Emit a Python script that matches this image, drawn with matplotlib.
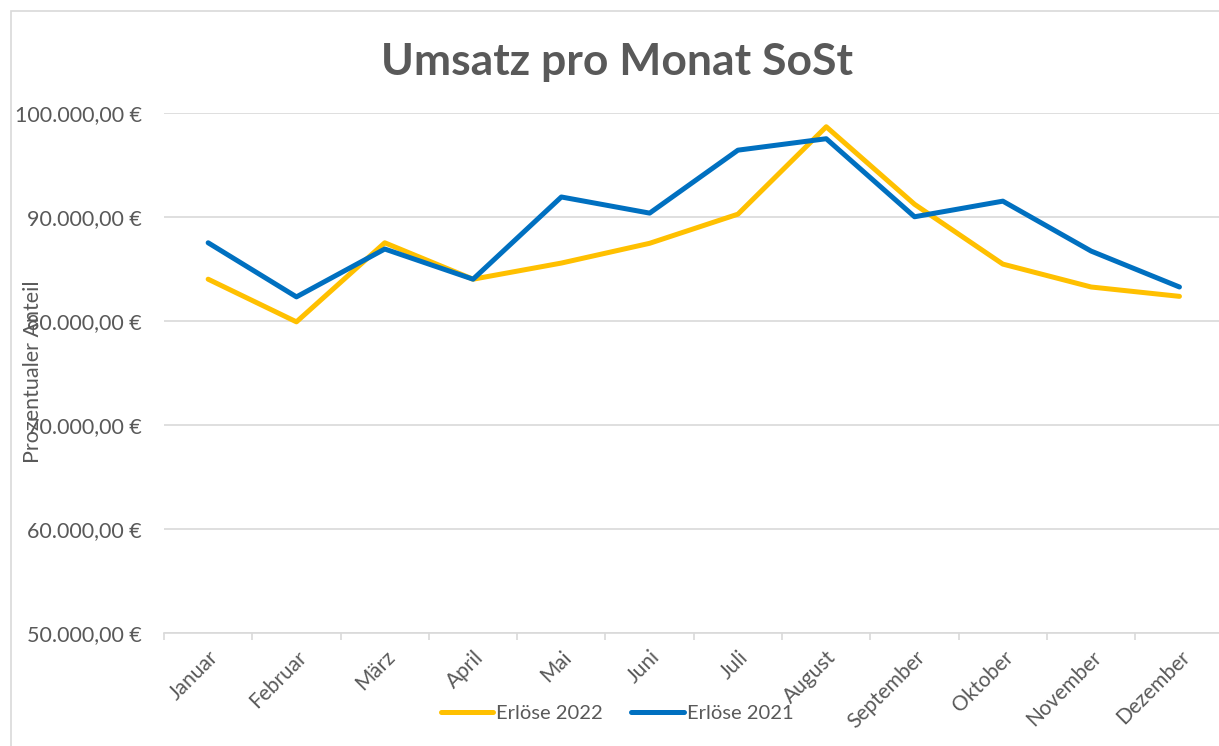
import matplotlib.pyplot as plt
from matplotlib.ticker import FuncFormatter, FixedLocator
from matplotlib.patches import Rectangle
import numpy as np

# Daten
monate = ['Januar', 'Februar', 'März', 'April', 'Mai', 'Juni', 'Juli',
          'August', 'September', 'Oktober', 'November', 'Dezember']
erloese_2022 = [84000, 79900, 87500, 84000, 85550, 87450, 90250, 98650, 91200, 85450, 83250, 82350]
erloese_2021 = [87500, 82300, 86900, 84000, 91900, 90350, 96400, 97500, 90000, 91500, 86700, 83250]

plt.rcParams['font.family'] = ['Lato', 'DejaVu Sans']
text_col = '#595959'
grid_col = '#D9D9D9'

fig = plt.figure(figsize=(12.19, 7.46), dpi=100)
W, H = 1219, 746

# Rahmen des Diagrammbereichs
fig.patches.append(Rectangle((11 / W, -0.05), 1.1, 1 - 11 / H + 0.05, transform=fig.transFigure,
                             fill=False, edgecolor=grid_col, linewidth=1.2))

ax = fig.add_axes([164 / W, 1 - 633 / H, (12 * 88.3) / W, (633 - 112.7) / H])

x = np.arange(len(monate))
ax.plot(x, erloese_2022, color='#FFC000', linewidth=3.6, solid_capstyle='round',
        solid_joinstyle='round', label='Erlöse 2022')
ax.plot(x, erloese_2021, color='#0070C0', linewidth=3.6, solid_capstyle='round',
        solid_joinstyle='round', label='Erlöse 2021')

ax.set_xlim(-0.5, 11.5)
ax.set_ylim(50000, 100000)
ax.set_yticks(np.arange(50000, 100001, 10000))


def euro(v, pos):
    s = f'{v:,.2f}'.replace(',', 'X').replace('.', ',').replace('X', '.')
    return s + ' €'


ax.yaxis.set_major_formatter(FuncFormatter(euro))
ax.grid(axis='y', color=grid_col, linewidth=1.2)
ax.set_axisbelow(True)

for s in ['top', 'right', 'left']:
    ax.spines[s].set_visible(False)
ax.spines['bottom'].set_color(grid_col)
ax.spines['bottom'].set_linewidth(1.2)

ax.set_xticks(x)
ax.set_xticklabels(monate, rotation=45, ha='right', rotation_mode='anchor')
ax.xaxis.set_minor_locator(FixedLocator(np.arange(-0.5, 12, 1)))
ax.tick_params(axis='x', which='major', length=0, pad=10, labelsize=15, labelcolor=text_col)
ax.tick_params(axis='x', which='minor', length=5, width=1.2, color=grid_col)
ax.tick_params(axis='y', length=0, pad=16, labelsize=15.5, labelcolor=text_col)

fig.text(33 / W, 1 - 372 / H, 'Prozentualer Anteil', rotation=90, ha='center', va='center',
         fontsize=15.5, color=text_col)

fig.text(617 / W, 1 - 62 / H, 'Umsatz pro Monat SoSt', ha='center', va='center',
         fontsize=32, fontweight='bold', color=text_col)

leg = fig.legend(loc='center', bbox_to_anchor=(617 / W, 1 - 713 / H), ncol=2, frameon=False,
                 fontsize=14.5, handlelength=2.6, handletextpad=0.15, columnspacing=1.4)
for t in leg.get_texts():
    t.set_color(text_col)

fig.savefig('out.png', dpi=100)
